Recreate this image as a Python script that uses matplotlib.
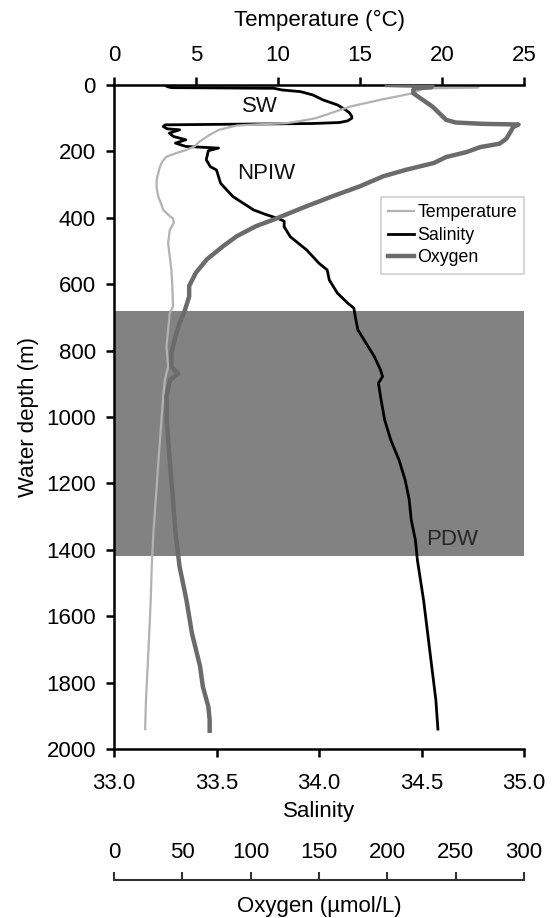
import matplotlib
matplotlib.use('Agg')
import matplotlib.pyplot as plt
from matplotlib.lines import Line2D

plt.rcParams['font.family'] = ['Liberation Sans', 'DejaVu Sans']

# ---------------- data ----------------
temp_depth = [0, 8, 10, 12, 25, 45, 65, 85, 100, 110, 115, 118, 122, 135, 151, 171,
              185, 196, 205, 216, 230, 246, 265, 286, 310, 336, 355, 376, 395, 402,
              415, 437, 477, 517, 557, 600, 667, 687, 738, 788, 848, 888, 938, 1038,
              1139, 1239, 1350, 1451, 1551, 1651, 1752, 1852, 1940]
temp_values = [22.3, 22.2, 19.0, 18.8, 18.2, 16.2, 14.4, 13.2, 12.3, 11.2, 10.5, 9.0,
               7.5, 6.4, 5.8, 5.2, 4.9, 4.4, 3.8, 3.2, 2.95, 2.8, 2.7, 2.6, 2.6, 2.7,
               2.85, 3.0, 3.4, 3.6, 3.65, 3.4, 3.3, 3.4, 3.5, 3.55, 3.6, 3.4, 3.3, 3.2,
               3.3, 3.1, 3.0, 2.85, 2.7, 2.56, 2.4, 2.3, 2.24, 2.15, 2.05, 1.95, 1.9]

sal_depth = [0, 5, 8, 9, 10, 15, 20, 30, 45, 60, 75, 85, 95, 100, 108, 113, 116, 118,
             120, 125, 132, 135, 145, 155, 165, 175, 185, 190, 198, 225, 246, 256, 276,
             296, 316, 336, 356, 376, 390, 402, 410, 427, 457, 497, 537, 557, 587,
             627, 657, 672, 708, 738, 768, 818, 858, 878, 898, 938, 1008, 1069, 1129,
             1189, 1249, 1310, 1370, 1431, 1551, 1651, 1752, 1852, 1940]
sal_values = [33.25, 33.26, 33.28, 33.55, 33.78, 33.82, 33.91, 33.97, 34.02, 34.09,
              34.13, 34.15, 34.16, 34.16, 34.14, 34.10, 33.97, 33.60, 33.25, 33.24,
              33.26, 33.32, 33.27, 33.29, 33.35, 33.30, 33.35, 33.51, 33.46, 33.45,
              33.47, 33.50, 33.51, 33.52, 33.55, 33.58, 33.63, 33.68, 33.74,
              33.80, 33.83, 33.83, 33.86, 33.94, 34.00, 34.04, 34.05, 34.09, 34.14,
              34.17, 34.18, 34.19, 34.22, 34.27, 34.30, 34.31, 34.29, 34.30, 34.32,
              34.35, 34.39, 34.42, 34.44, 34.45, 34.47, 34.48, 34.51, 34.53, 34.55,
              34.57, 34.58]

oxy_depth = [0, 3, 7, 10, 15, 25, 45, 65, 85, 105, 113, 117, 119, 127, 142, 162, 177,
             187, 202, 217, 235, 255, 275, 305, 335, 365, 385, 405, 425, 455, 485, 525,
             565, 605, 637, 677, 717, 757, 808, 848, 870, 888, 938, 1008, 1089, 1169,
             1239, 1350, 1451, 1551, 1651, 1701, 1752, 1812, 1872, 1912, 1945]
oxy_values = [200, 233, 232, 220, 219, 219, 226, 233, 238, 243, 250, 270, 296, 292,
              290, 287, 282, 268, 258, 243, 234, 214, 197, 180, 160, 141, 129, 117,
              104, 90, 80, 68, 60, 55, 55, 52, 48, 45, 42, 42, 47, 41, 38.5, 38.5, 40,
              41.5, 43, 45, 48, 53, 57, 60, 63, 65, 69, 70, 70]

depth_ticks = [0, 200, 400, 600, 800, 1000, 1200, 1400, 1600, 1800, 2000]
sal_ticks = [33.0, 33.5, 34.0, 34.5, 35.0]
temp_ticks = [0, 5, 10, 15, 20, 25]
oxy_ticks = [0, 50, 100, 150, 200, 250, 300]
pdw_band = [680, 1420]
mass_names = ['SW', 'NPIW', 'PDW']
series_names = ['Temperature', 'Salinity', 'Oxygen']

# ---------------- layout ----------------
W, H = 555, 918
x0, x1 = 114, 524
y0, y1 = 85, 749
fig = plt.figure(figsize=(W / 100, H / 100), dpi=100)
rect = [x0 / W, (H - y1) / H, (x1 - x0) / W, (y1 - y0) / H]

c_temp = '#b2b2b2'
c_sal = '#000000'
c_oxy = '#6b6b6b'
c_band = '#828282'
spine_w = 1.8
fs = 16
lw_t, lw_s, lw_o = 1.6, 2.0, 3.2

ax = fig.add_axes(rect)          # salinity (bottom)
ax.set_xlim(sal_ticks[0], sal_ticks[-1])
ax.set_ylim(2000, 0)
ax.axhspan(pdw_band[0], pdw_band[1], color=c_band, lw=0, zorder=0)
ax.plot(sal_values, sal_depth, color=c_sal, lw=lw_s, zorder=3)
ax.set_yticks(depth_ticks)
ax.set_xticks(sal_ticks)
ax.set_xticklabels([f'{v:.1f}' for v in sal_ticks])
ax.set_ylabel('Water depth (m)', fontsize=fs, labelpad=5)
ax.set_xlabel('Salinity', fontsize=fs, labelpad=5)
for s in ['top', 'right']:
    ax.spines[s].set_visible(False)
for s in ['left', 'bottom']:
    ax.spines[s].set_linewidth(spine_w)
ax.tick_params(axis='y', direction='out', length=6, width=spine_w,
               labelsize=fs, pad=7)
ax.tick_params(axis='x', direction='out', length=6, width=spine_w,
               labelsize=fs, pad=11)

ax_t = ax.twiny()                # temperature (top)
ax_t.set_xlim(temp_ticks[0], temp_ticks[-1])
ax_t.plot(temp_values, temp_depth, color=c_temp, lw=lw_t, zorder=2)
ax_t.set_xticks(temp_ticks)
ax_t.set_xlabel('Temperature (°C)', fontsize=fs, labelpad=13)
for s in ['left', 'right', 'bottom']:
    ax_t.spines[s].set_visible(False)
ax_t.spines['top'].set_linewidth(spine_w)
ax_t.tick_params(axis='x', direction='out', length=6, width=spine_w,
                 labelsize=fs, pad=8)

ax_o = ax.twiny()                # oxygen (plotted on its own scale)
ax_o.set_xlim(oxy_ticks[0], oxy_ticks[-1])
ax_o.plot(oxy_values, oxy_depth, color=c_oxy, lw=lw_o, zorder=4)
for s in ax_o.spines.values():
    s.set_visible(False)
ax_o.set_xticks([])

# water-mass labels
ax_o.text(0.356, 0.967, mass_names[0], transform=ax_o.transAxes, ha='center',
          va='center', fontsize=fs, color='#111111')
ax_o.text(0.371, 0.867, mass_names[1], transform=ax_o.transAxes, ha='center',
          va='center', fontsize=fs, color='#111111')
ax_o.text(0.824, 0.315, mass_names[2], transform=ax_o.transAxes, ha='center',
          va='center', fontsize=fs, color='#262626')

handles = [Line2D([], [], color=c_temp, lw=lw_t),
           Line2D([], [], color=c_sal, lw=lw_s),
           Line2D([], [], color=c_oxy, lw=lw_o)]
leg = ax_o.legend(handles, series_names, loc='upper right',
                  bbox_to_anchor=(1.0, (y1 - 197) / (y1 - y0)), fontsize=12.8,
                  frameon=True, fancybox=False, edgecolor='#c4c4c4',
                  handlelength=1.45, handletextpad=0.2, labelspacing=0.32,
                  borderpad=0.4, borderaxespad=0)
leg.get_frame().set_linewidth(1.2)

# separate oxygen scale bar below
oy = 880
ax_ob = fig.add_axes([x0 / W, (H - oy) / H, (x1 - x0) / W, 0.0001])
ax_ob.patch.set_visible(False)
ax_ob.set_xlim(oxy_ticks[0], oxy_ticks[-1])
ax_ob.set_xticks(oxy_ticks)
ax_ob.set_yticks([])
for s in ['left', 'right', 'top']:
    ax_ob.spines[s].set_visible(False)
ax_ob.spines['bottom'].set_linewidth(1.5)
ax_ob.spines['bottom'].set_color('#333333')
ax_ob.tick_params(axis='x', direction='in', length=6, width=1.5, color='#333333',
                  bottom=True, top=False, labelbottom=False, labeltop=True,
                  labelsize=fs, pad=12.5)
ax_ob.set_xlabel('Oxygen (µmol/L)', fontsize=fs, labelpad=11.5)

fig.savefig('out.png', dpi=100)
